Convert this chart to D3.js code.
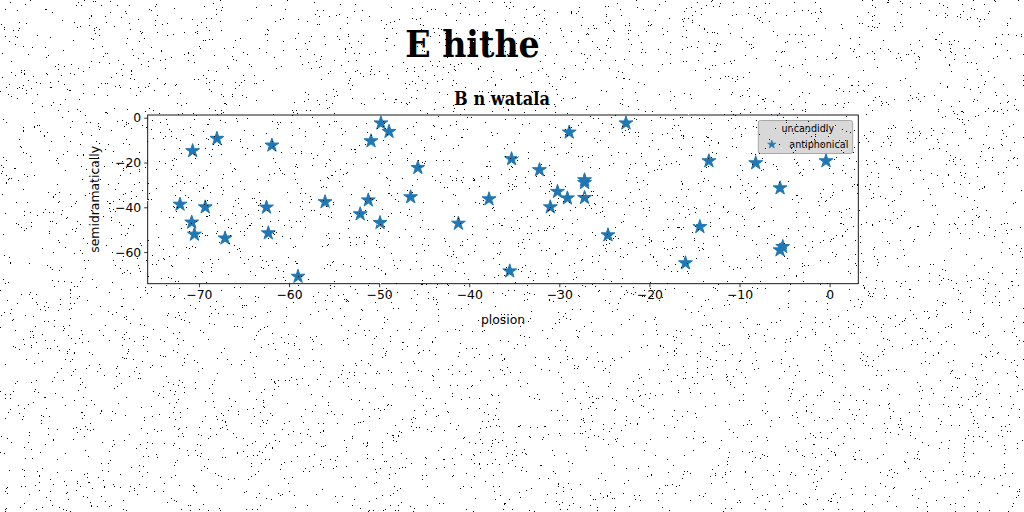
<!DOCTYPE html>
<html>
<head>
<meta charset="utf-8">
<script src="https://cdn.jsdelivr.net/npm/d3@7"></script>
<style>
  html, body { margin: 0; padding: 0; background: #fff; }
  svg { display: block; }
</style>
</head>
<body>
<svg id="chart" width="1024" height="512"></svg>
<script>
// data
var seriesX = [-72.1, -70.8, -70.5, -70.7, -68.0, -69.3, -67.1, -62.5, -62.3, -61.9,
               -59.0, -56.0, -52.1, -51.2, -50.9, -49.8, -48.9, -49.9, -46.5, -45.7,
               -41.2, -37.8, -35.5, -35.3, -32.2, -31.0, -30.2, -29.1, -28.9, -27.2,
               -27.2, -27.2, -22.6, -24.6, -16.0, -14.4, -13.4, -8.2, -5.5, -5.2,
               -5.5, -0.4];
var seriesY = [-38.5, -46.5, -51.9, -14.6, -9.1, -39.7, -53.6, -39.8, -51.3, -12.1,
               -70.7, -37.4, -42.8, -36.6, -10.2, -2.2, -6.0, -46.7, -35.2, -22.1,
               -47.0, -36.1, -68.3, -18.2, -23.1, -39.7, -32.8, -35.7, -6.3, -27.6,
               -28.8, -35.5, -2.2, -52.2, -64.7, -48.5, -19.1, -20.0, -31.2, -57.4,
               -58.9, -19.1];
var xTicks = [-70, -60, -50, -40, -30, -20, -10, 0];
var yTicks = [0, -20, -40, -60];

var titleText = 'E hithe',
    subtitleText = 'B n watala',
    xLabel = 'plosion',
    yLabel = 'semidramatically',
    legendTitle = 'uncandidly',
    seriesName = 'antiphonical';

var svg = d3.select('#chart');
var plot = {left: 147.7, right: 858.3, top: 115, bottom: 283.7};
var blue = '#1f77b4';

// matplotlib style 5% padding on the data range
function padded(values) {
  var ext = d3.extent(values), span = ext[1] - ext[0];
  return [ext[0] - 0.05 * span, ext[1] + 0.05 * span];
}

var x = d3.scaleLinear().domain(padded(seriesX)).range([plot.left, plot.right]);
var y = d3.scaleLinear().domain(padded(seriesY)).range([plot.bottom, plot.top]);

var points = seriesX.map(function(d, i) { return {x: d, y: seriesY[i]}; });

// axes
var minusFmt = function(d) { return d3.format('d')(d).replace('-', '\u2212'); };
var xAxis = d3.axisBottom(x).tickValues(xTicks).tickSize(3.5).tickPadding(3).tickFormat(minusFmt);
var yAxis = d3.axisLeft(y).tickValues(yTicks).tickSize(3.5).tickPadding(3).tickFormat(minusFmt);

var gx = svg.append('g').attr('transform', 'translate(0,' + plot.bottom + ')').call(xAxis);
var gy = svg.append('g').attr('transform', 'translate(' + plot.left + ',0)').call(yAxis);
[gx, gy].forEach(function(g) {
  g.select('.domain').remove();
  g.selectAll('.tick line').attr('stroke', '#000').attr('stroke-width', 0.8);
  g.selectAll('.tick text').attr('fill', '#000')
    .style('font-family', 'DejaVu Sans').style('font-size', '12.4px');
});

// stars
var star = d3.symbol().type(d3.symbolStar).size(60);
svg.append('g').selectAll('path').data(points).enter()
  .append('path')
  .attr('d', star)
  .attr('transform', function(d) { return 'translate(' + x(d.x) + ',' + (y(d.y) + 0.5) + ')'; })
  .attr('fill', blue)
  .attr('stroke', blue)
  .attr('stroke-width', 1);

// frame
svg.append('rect')
  .attr('x', plot.left).attr('y', plot.top)
  .attr('width', plot.right - plot.left).attr('height', plot.bottom - plot.top)
  .attr('fill', 'none').attr('stroke', '#000').attr('stroke-width', 0.9);

// titles & labels
svg.append('text').attr('x', 472.5).attr('y', 57)
  .attr('text-anchor', 'middle')
  .style('font-family', 'DejaVu Serif Condensed, DejaVu Serif').style('font-weight', 'bold')
  .style('font-size', '37px').text(titleText);

svg.append('text').attr('x', 502).attr('y', 105)
  .attr('text-anchor', 'middle')
  .style('font-family', 'DejaVu Serif Condensed, DejaVu Serif').style('font-weight', 'bold')
  .style('font-size', '18px').text(subtitleText);

svg.append('text').attr('x', (plot.left + plot.right) / 2).attr('y', 324)
  .attr('text-anchor', 'middle')
  .style('font-family', 'DejaVu Sans').style('font-size', '12.4px').text(xLabel);

svg.append('text')
  .attr('transform', 'translate(99,' + ((plot.top + plot.bottom) / 2) + ') rotate(-90)')
  .attr('text-anchor', 'middle')
  .style('font-family', 'DejaVu Sans').style('font-size', '12.4px').text(yLabel);

// legend
var legend = svg.append('g').attr('transform', 'translate(758.3,120.5)');
legend.append('rect')
  .attr('width', 94.4).attr('height', 33)
  .attr('rx', 2).attr('ry', 2)
  .attr('fill', '#d8d8d8').attr('stroke', '#a0a0a0').attr('stroke-width', 0.9);
legend.append('text').attr('x', 49.5).attr('y', 11.5)
  .attr('text-anchor', 'middle')
  .style('font-family', 'DejaVu Sans').style('font-size', '9.6px').text(legendTitle);
legend.append('path')
  .attr('d', d3.symbol().type(d3.symbolStar).size(22))
  .attr('transform', 'translate(13.5,24)')
  .attr('fill', blue).attr('stroke', blue).attr('stroke-width', 0.6);
legend.append('text').attr('x', 31).attr('y', 27.5)
  .style('font-family', 'DejaVu Sans').style('font-size', '9.6px').text(seriesName);

// speckle texture over the whole picture (fixed seed, decoration only)
var rnd = d3.randomLcg(0.4217);
var speck = [];
for (var i = 0; i < 6200; i++) {
  speck.push([Math.floor(rnd() * 1024), Math.floor(rnd() * 512), rnd() < 0.12]);
}
svg.append('g').selectAll('rect').data(speck).enter()
  .append('rect')
  .attr('x', function(d) { return d[0]; })
  .attr('y', function(d) { return d[1]; })
  .attr('width', 1).attr('height', 1)
  .attr('fill', function(d) { return d[2] ? '#fff' : '#000'; });
</script>
</body>
</html>
